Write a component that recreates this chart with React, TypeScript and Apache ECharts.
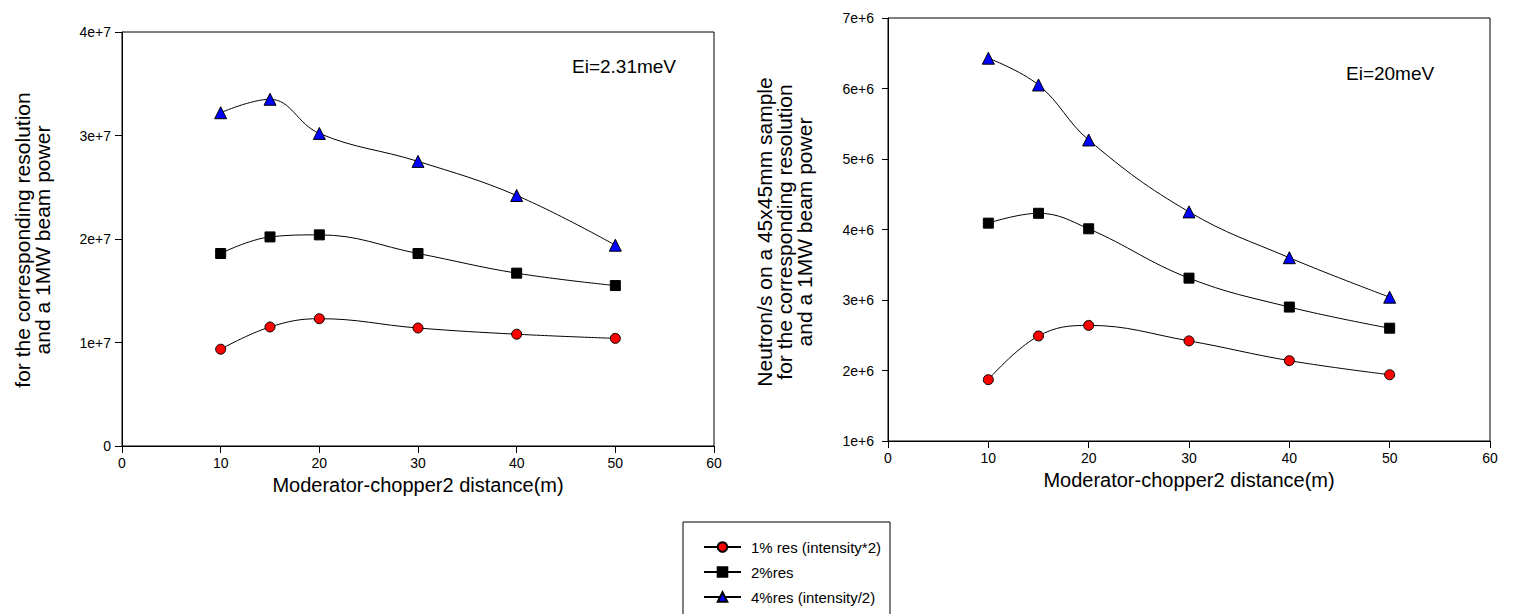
import React, { useEffect, useRef } from "react";
import * as echarts from "echarts";

const FONT = "'Liberation Sans', Arial, sans-serif";

const distances = [10, 15, 20, 30, 40, 50];
const seriesNames = ["1% res (intensity*2)", "2%res", "4%res (intensity/2)"];

// Ei = 2.31 meV
const left1 = [9.35e6, 1.15e7, 1.23e7, 1.14e7, 1.08e7, 1.04e7];
const left2 = [1.86e7, 2.02e7, 2.04e7, 1.86e7, 1.67e7, 1.55e7];
const left4 = [3.22e7, 3.35e7, 3.02e7, 2.75e7, 2.42e7, 1.94e7];

// Ei = 20 meV
const right1 = [1.87e6, 2.49e6, 2.64e6, 2.42e6, 2.14e6, 1.94e6];
const right2 = [4.09e6, 4.23e6, 4.01e6, 3.31e6, 2.9e6, 2.6e6];
const right4 = [6.43e6, 6.05e6, 5.27e6, 4.25e6, 3.6e6, 3.04e6];

const xTitle = "Moderator-chopper2 distance(m)";
const leftYTitle = "for the corresponding resolution\nand a 1MW beam power";
const rightYTitle =
  "Neutron/s on a 45x45mm sample\nfor the corresponding resolution\nand a 1MW beam power";

const markerStyles = [
  { symbol: "circle", symbolSize: 10, color: "#ff0000" },
  { symbol: "rect", symbolSize: 10, color: "#000000" },
  { symbol: "triangle", symbolSize: 12, color: "#0000ff" },
];

function makeSeries(values: number[], idx: number, axis: number) {
  const m = markerStyles[idx];
  return {
    name: seriesNames[idx],
    type: "line",
    xAxisIndex: axis,
    yAxisIndex: axis,
    data: distances.map((d, i) => [d, values[i]]),
    smooth: 0.4,
    symbol: m.symbol,
    symbolSize: m.symbolSize,
    showSymbol: true,
    lineStyle: { color: "#000", width: 1 },
    itemStyle: { color: m.color, borderColor: "#000", borderWidth: 1 },
    emphasis: { disabled: true },
    z: 3,
  };
}

export default function App() {
  const ref = useRef<HTMLDivElement>(null);

  useEffect(() => {
    if (!ref.current) return;
    const chart = echarts.init(ref.current, undefined, { renderer: "svg" });

    const axisCommon = {
      axisLine: { show: true, lineStyle: { color: "#000", width: 1 } },
      axisTick: { show: true, length: 7, lineStyle: { color: "#000", width: 1 } },
      splitLine: { show: false },
    };

    const xAxisBase = (gridIndex: number, gap: number) => ({
      type: "value",
      gridIndex,
      min: 0,
      max: 60,
      interval: 10,
      name: xTitle,
      nameLocation: "middle",
      nameGap: gap,
      nameTextStyle: { fontSize: 20, color: "#000", fontFamily: FONT },
      axisLabel: { fontSize: 14, color: "#000", fontFamily: FONT, margin: 10 },
      ...axisCommon,
    });

    chart.setOption({
      animation: false,
      backgroundColor: "#fff",
      textStyle: { fontFamily: FONT },
      grid: [
        {
          left: 122,
          top: 32,
          width: 592,
          height: 414,
          show: true,
          borderColor: "#000",
          borderWidth: 1,
          backgroundColor: "transparent",
        },
        {
          left: 888,
          top: 18,
          width: 602,
          height: 423,
          show: true,
          borderColor: "#000",
          borderWidth: 1,
          backgroundColor: "transparent",
        },
      ],
      xAxis: [xAxisBase(0, 26), xAxisBase(1, 24)],
      yAxis: [
        {
          type: "value",
          gridIndex: 0,
          min: 0,
          max: 4e7,
          interval: 1e7,
          axisLabel: {
            fontSize: 14,
            color: "#000",
            fontFamily: FONT,
            margin: 11,
            formatter: (v: number) => (v === 0 ? "0" : `${Math.round(v / 1e7)}e+7`),
          },
          ...axisCommon,
        },
        {
          type: "value",
          gridIndex: 1,
          min: 1e6,
          max: 7e6,
          interval: 1e6,
          axisLabel: {
            fontSize: 14,
            color: "#000",
            fontFamily: FONT,
            margin: 14,
            formatter: (v: number) => `${Math.round(v / 1e6)}e+6`,
          },
          ...axisCommon,
          axisTick: { show: true, length: 6, lineStyle: { color: "#000", width: 1 } },
        },
      ],
      legend: {
        data: seriesNames,
        orient: "vertical",
        left: 703,
        top: 538,
        itemWidth: 37,
        itemHeight: 12,
        itemGap: 7,
        padding: 0,
        selectedMode: false,
        textStyle: {
          fontSize: 15,
          lineHeight: 18,
          color: "#000",
          fontFamily: FONT,
          padding: [0, 0, 0, 5],
        },
      },
      graphic: [
        {
          type: "rect",
          shape: { x: 683, y: 522, width: 207, height: 110 },
          style: { fill: "none", stroke: "#000", lineWidth: 1 },
          silent: true,
          z: -1,
        },
        {
          type: "text",
          x: 32,
          y: 240,
          rotation: Math.PI / 2,
          style: {
            text: leftYTitle,
            fontSize: 21,
            lineHeight: 20,
            fill: "#000",
            fontFamily: FONT,
            textAlign: "center",
            textVerticalAlign: "middle",
          },
        },
        {
          type: "text",
          x: 784,
          y: 232,
          rotation: Math.PI / 2,
          style: {
            text: rightYTitle,
            fontSize: 21,
            lineHeight: 20,
            fill: "#000",
            fontFamily: FONT,
            textAlign: "center",
            textVerticalAlign: "middle",
          },
        },
        {
          type: "text",
          x: 572,
          y: 66,
          style: {
            text: "Ei=2.31meV",
            fontSize: 19,
            fill: "#000",
            fontFamily: FONT,
            textAlign: "left",
            textVerticalAlign: "middle",
          },
        },
        {
          type: "text",
          x: 1346,
          y: 73,
          style: {
            text: "Ei=20meV",
            fontSize: 19,
            fill: "#000",
            fontFamily: FONT,
            textAlign: "left",
            textVerticalAlign: "middle",
          },
        },
      ],
      series: [
        makeSeries(left1, 0, 0),
        makeSeries(left2, 1, 0),
        makeSeries(left4, 2, 0),
        makeSeries(right1, 0, 1),
        makeSeries(right2, 1, 1),
        makeSeries(right4, 2, 1),
      ],
    });

    return () => chart.dispose();
  }, []);

  return (
    <div
      ref={ref}
      style={{ position: "absolute", left: 0, top: 0, width: 1514, height: 614 }}
    />
  );
}
